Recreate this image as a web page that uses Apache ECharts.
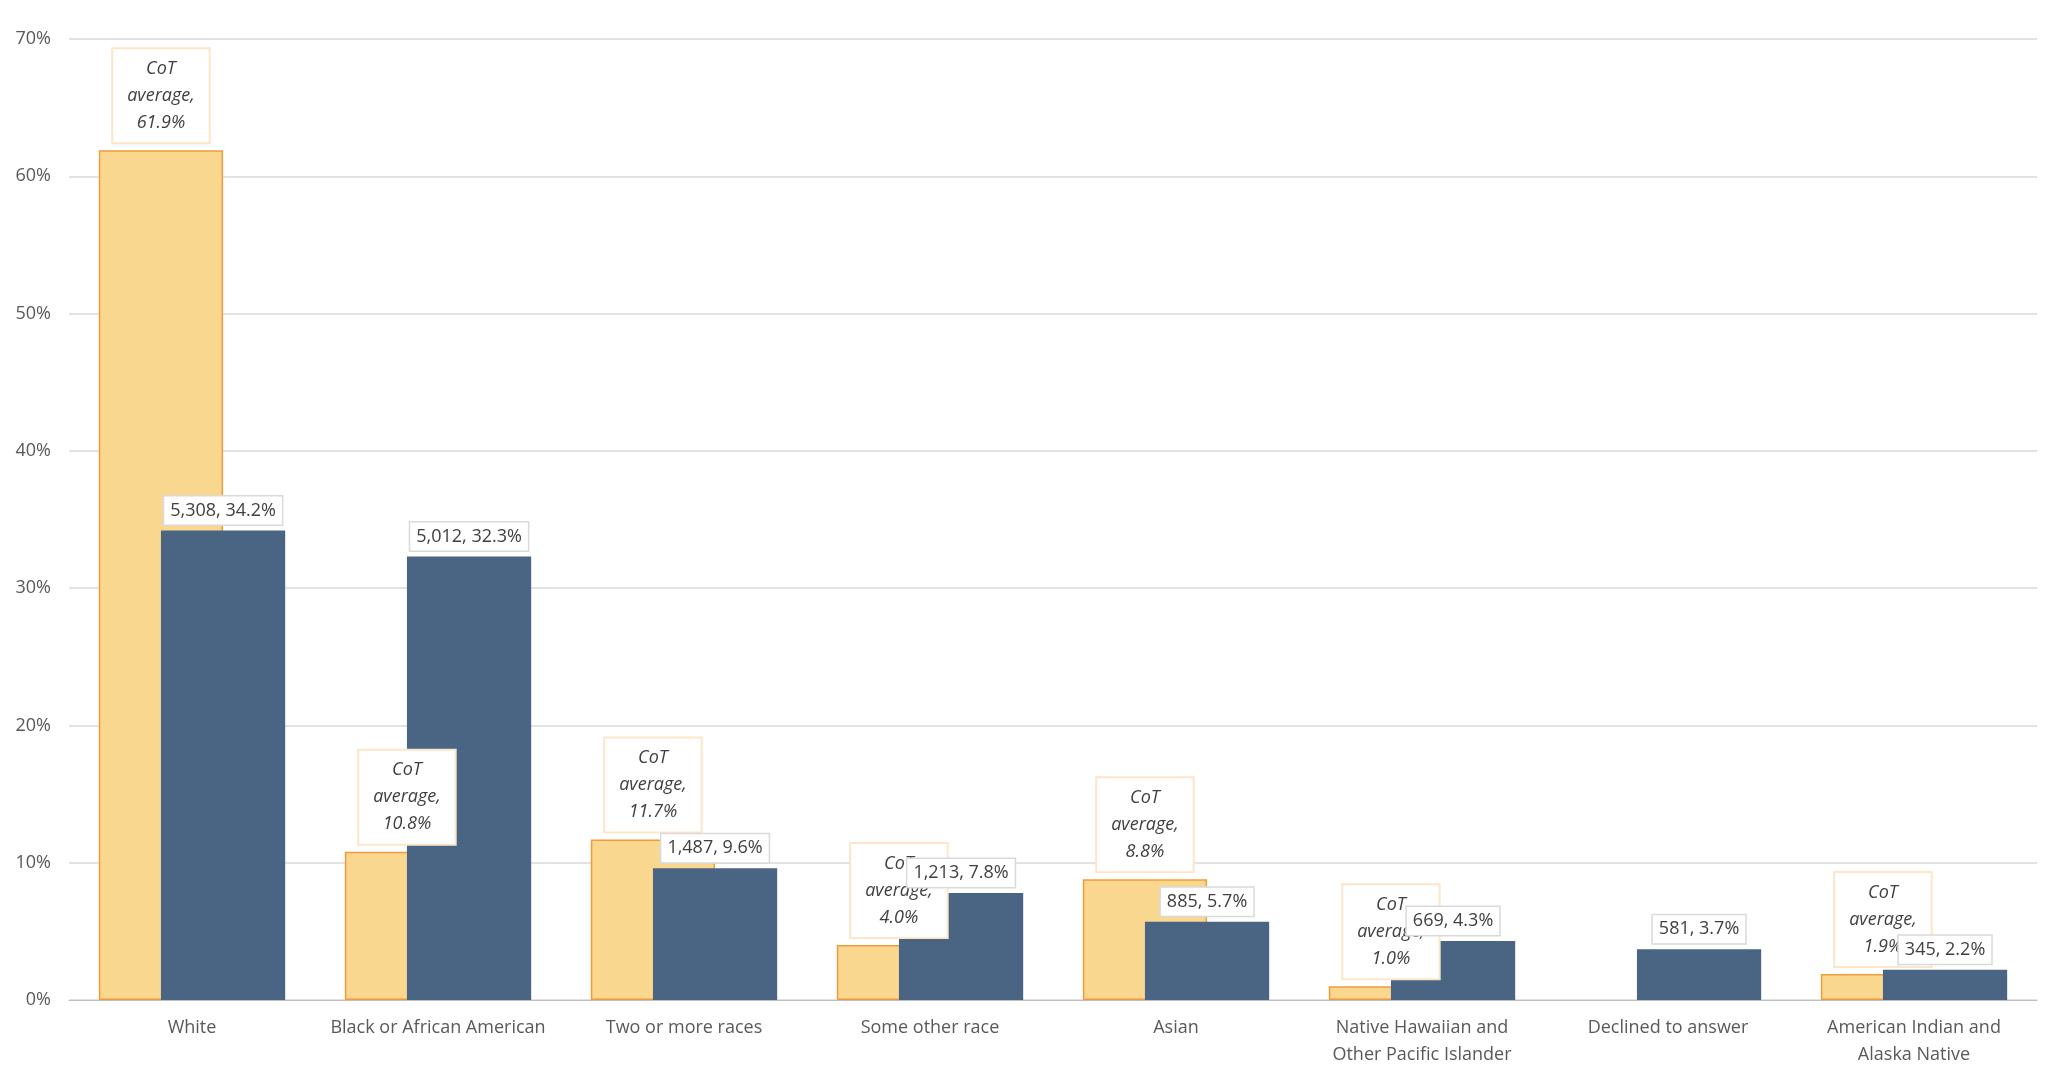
<!DOCTYPE html>
<html>
<head>
<meta charset="utf-8">
<script src="https://cdn.jsdelivr.net/npm/echarts@6/dist/echarts.min.js"></script>
<style>html,body{margin:0;padding:0;background:#fff}#c{width:2048px;height:1068px}</style>
</head>
<body>
<div id="c"></div>
<script>
var chart = echarts.init(document.getElementById('c'));

// 数据
var categories = ['White', 'Black or African American', 'Two or more races', 'Some other race', 'Asian',
    'Native Hawaiian and\nOther Pacific Islander', 'Declined to answer', 'American Indian and\nAlaska Native'];
var cotAverage = [61.9, 10.8, 11.7, 4.0, 8.8, 1.0, null, 1.9];
var groupPct = [34.2, 32.3, 9.6, 7.8, 5.7, 4.3, 3.7, 2.2];
var groupCount = ['5,308', '5,012', '1,487', '1,213', '885', '669', '581', '345'];

var font = 'Open Sans';
option = {
    textStyle: { fontFamily: font },
    grid: { left: 69, right: 11, top: 39, bottom: 62 },
    xAxis: {
        type: 'category',
        data: categories,
        axisTick: { show: false },
        axisLine: { lineStyle: { color: '#bfbfbf' } },
        axisLabel: { color: '#595959', fontSize: 18, lineHeight: 27, margin: 14, interval: 0 }
    },
    yAxis: {
        type: 'value',
        min: 0, max: 70, interval: 10,
        axisLabel: { formatter: '{value}%', color: '#595959', fontSize: 18, margin: 18 },
        splitLine: { lineStyle: { color: '#d9d9d9', width: 1.5 } }
    },
    series: [{
        name: 'CoT average',
        type: 'bar',
        data: cotAverage,
        barWidth: '50.5%',
        barGap: '-50%',
        itemStyle: { color: '#f9d78f', borderColor: '#f39a3a', borderWidth: 1.5 },
        label: {
            show: true, position: 'top', distance: 8,
            formatter: function (p) { return p.value == null ? '' : 'CoT\naverage,\n' + p.value.toFixed(1) + '%'; },
            color: '#404040', fontSize: 18, fontStyle: 'italic', lineHeight: 27,
            backgroundColor: '#fff', borderColor: '#fde6c8', borderWidth: 2, padding: [6, 14]
        }
    }, {
        name: 'Group',
        type: 'bar',
        data: groupPct,
        barWidth: '50.5%',
        itemStyle: { color: '#4a6584' },
        label: {
            show: true, position: 'top', distance: 6,
            formatter: function (p) { return groupCount[p.dataIndex] + ', ' + p.value.toFixed(1) + '%'; },
            color: '#404040', fontSize: 18,
            backgroundColor: '#fff', borderColor: '#d9d9d9', borderWidth: 1.5, padding: [5, 6]
        }
    }]
};
chart.setOption(option);
</script>
</body>
</html>
